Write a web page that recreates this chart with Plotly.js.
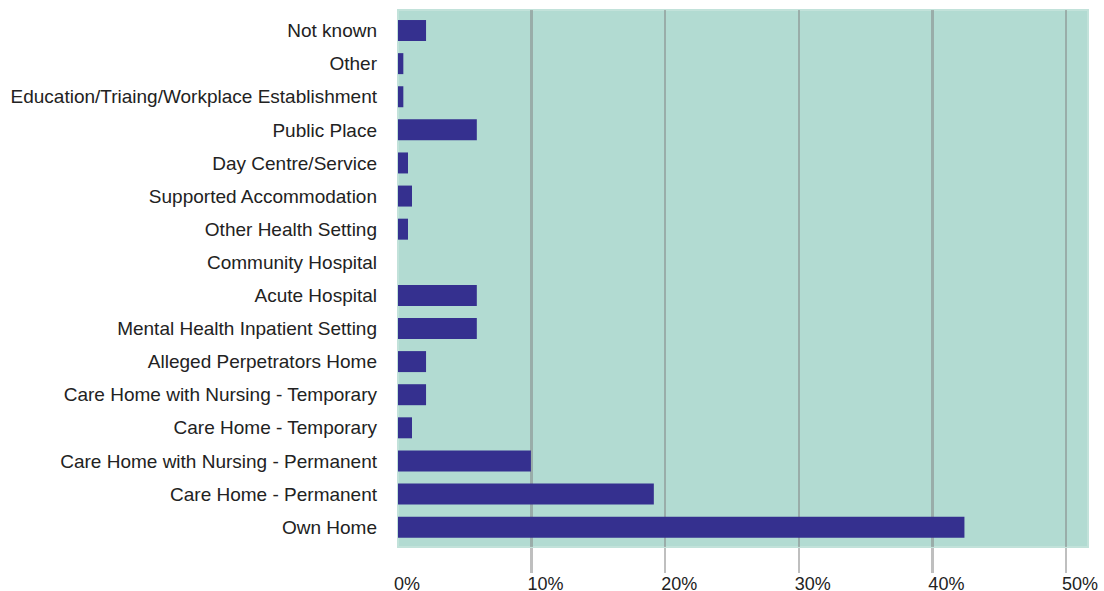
<!DOCTYPE html>
<html>
<head>
<meta charset="utf-8">
<script src="https://cdn.plot.ly/plotly-3.0.1.min.js"></script>
<style>html,body{margin:0;padding:0;background:#fff;}#chart{width:1104px;height:591px;}</style>
</head>
<body>
<div id="chart"></div>
<script>
// Categories listed top to bottom
const categories = [
  "Not known",
  "Other",
  "Education/Triaing/Workplace Establishment",
  "Public Place",
  "Day Centre/Service",
  "Supported Accommodation",
  "Other Health Setting",
  "Community Hospital",
  "Acute Hospital",
  "Mental Health Inpatient Setting",
  "Alleged Perpetrators Home",
  "Care Home with Nursing - Temporary",
  "Care Home - Temporary",
  "Care Home with Nursing - Permanent",
  "Care Home - Permanent",
  "Own Home"
];
// Percentages
const values = [2.1, 0.4, 0.4, 5.9, 0.75, 1.05, 0.75, 0, 5.9, 5.9, 2.1, 2.1, 1.05, 9.95, 19.15, 42.4];
const tickValues = [0, 10, 20, 30, 40, 50];
const tickLabels = ["0%", "10%", "20%", "30%", "40%", "50%"];
const gridValues = [10, 20, 30, 40, 50];

const traces = [
  {
    type: "bar",
    orientation: "h",
    x: values,
    y: categories,
    marker: {color: "#35308f"},
    hoverinfo: "x+y"
  },
  {
    type: "scatter",
    mode: "markers",
    x: [],
    y: [],
    xaxis: "x2",
    yaxis: "y",
    showlegend: false,
    hoverinfo: "skip"
  }
];

const layout = {
  width: 1104,
  height: 591,
  margin: {l: 398, r: 16, t: 10, b: 44},
  paper_bgcolor: "#ffffff",
  plot_bgcolor: "#b2dbd2",
  font: {family: "Liberation Sans, Arial, Helvetica, sans-serif", size: 18, color: "#222222"},
  showlegend: false,
  bargap: 0.366,
  xaxis: {
    range: [0, 51.65],
    tickvals: tickValues,
    ticktext: tickLabels,
    showgrid: false,
    zeroline: false,
    ticks: "",
    ticklabelposition: "outside right",
    ticklabelstandoff: 24,
    ticklabelshift: -4,
    tickfont: {size: 18, color: "#222222"},
    fixedrange: true
  },
  xaxis2: {
    overlaying: "x",
    matches: "x",
    side: "bottom",
    anchor: "y",
    tickvals: gridValues,
    showticklabels: false,
    showgrid: true,
    gridcolor: "rgba(128,128,128,0.5)",
    gridwidth: 2.5,
    ticks: "outside",
    ticklen: 25,
    tickwidth: 2.5,
    tickcolor: "rgba(128,128,128,0.5)",
    zeroline: false
  },
  yaxis: {
    type: "category",
    range: [15.6, -0.62],
    showgrid: false,
    zeroline: false,
    ticks: "",
    ticklabelstandoff: 20,
    tickfont: {size: 19, color: "#222222"},
    fixedrange: true
  },
  shapes: [
    {type: "rect", xref: "paper", yref: "paper", x0: 0, x1: 1, y0: 0, y1: 1,
     line: {color: "#c2e2da", width: 2}, layer: "below"}
  ]
};

Plotly.newPlot("chart", traces, layout, {displayModeBar: false, staticPlot: true});
</script>
</body>
</html>
